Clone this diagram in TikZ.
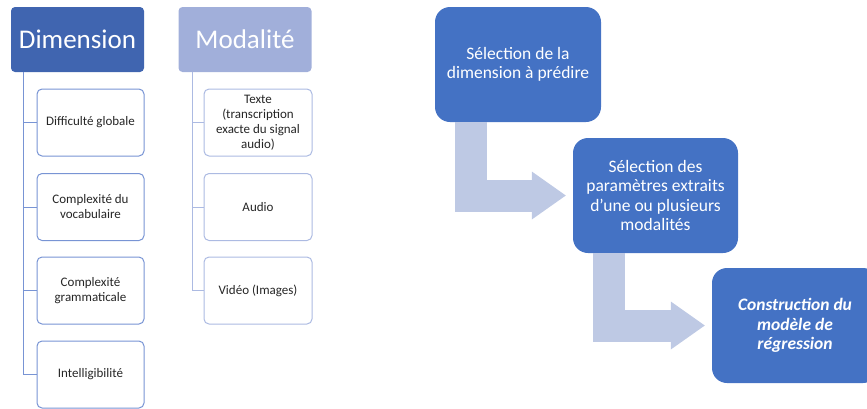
\documentclass[tikz,border=0pt]{standalone}
\usepackage{fontspec}
\setmainfont{Carlito}
\usetikzlibrary{arrows.meta}

\definecolor{dimblue}{RGB}{64,101,176}
\definecolor{modblue}{RGB}{161,175,218}
\definecolor{dimedge}{RGB}{120,148,212}
\definecolor{modedge}{RGB}{172,186,226}
\definecolor{stepblue}{RGB}{68,114,196}
\definecolor{flowgrey}{RGB}{190,201,228}
\definecolor{itemtext}{RGB}{38,38,38}

\begin{document}
\begin{tikzpicture}[x=1pt,y=-1pt,
    head/.style={rounded corners=4pt,text=white,inner sep=0pt,
        minimum width=133pt,minimum height=65pt,
        font=\fontsize{27}{32}\selectfont},
    item/.style={draw,line width=1pt,rounded corners=5pt,fill=white,
        text=itemtext,inner sep=0pt,align=center,
        minimum width=107pt,minimum height=67pt,
        font=\fontsize{13}{15}\selectfont},
    stepbox/.style={fill=stepblue,rounded corners=15pt,text=white,
        inner sep=0pt,align=center,minimum width=166pt,minimum height=115pt,
        font=\fontsize{17.5}{19.5}\selectfont},
    flow/.style={draw=flowgrey,line width=32pt,line join=miter,
        -{Triangle[length=34pt,width=48pt,line width=0pt]},shorten >=7pt}]
    \useasboundingbox (0,0) rectangle (867,408);

    % left part: the two lists
    \node[head,fill=dimblue] (dim) at (77.5,39.5) {Dimension};
    \node[head,fill=modblue] (mod) at (245,39.5) {Modalité};

    \node[item,draw=dimedge] (d1) at (90.5,122.5) {Difficulté globale};
    \node[item,draw=dimedge] (d2) at (90.5,207) {Complexité du\\vocabulaire};
    \node[item,draw=dimedge] (d3) at (90.5,290.5) {Complexité\\grammaticale};
    \node[item,draw=dimedge] (d4) at (90.5,374.5) {Intelligibilité};

    \node[item,draw=modedge,minimum width=108pt] (m1) at (258,122.5) {Texte\\(transcription\\exacte du signal\\audio)};
    \node[item,draw=modedge,minimum width=108pt] (m2) at (258,207) {Audio};
    \node[item,draw=modedge,minimum width=108pt] (m3) at (258,290.5) {Vidéo (Images)};

    \coordinate (dimroot) at ([xshift=13pt]dim.south west);
    \coordinate (modroot) at ([xshift=14pt]mod.south west);
    \foreach \n in {d1,d2,d3,d4}
        \draw[dimedge,line width=1pt] (dimroot) |- (\n.west);
    \foreach \n in {m1,m2,m3}
        \draw[modedge,line width=1pt] (modroot) |- (\n.west);

    % right part: the steps
    \node[stepbox] (s1) at (518,64.5) {Sélection de la\\dimension à prédire};
    \node[stepbox,minimum width=165pt] (s2) at (655.5,195.5) {Sélection des\\paramètres extraits\\d’une ou plusieurs\\modalités};
    \node[stepbox,font=\fontsize{17.5}{19.5}\selectfont\bfseries\itshape] (s3) at (795,325.5) {Construction du\\modèle de\\régression};

    \draw[flow] ([xshift=36pt]s1.south west) |- (s2.west);
    \draw[flow] ([xshift=36pt]s2.south west) |- (s3.west);
\end{tikzpicture}
\end{document}
